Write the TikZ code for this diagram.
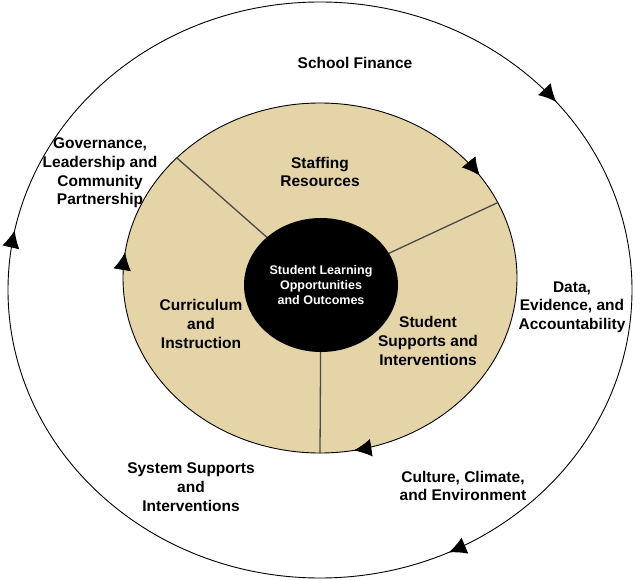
\documentclass[tikz,border=0pt]{standalone}
\usepackage{fontspec}
\setmainfont{Liberation Sans}
\usetikzlibrary{arrows.meta,decorations.markings,shapes.geometric}
\definecolor{DiskTan}{HTML}{E4D4A8}
\definecolor{RuleGray}{HTML}{4A4A4A}

\begin{document}
\begin{tikzpicture}[
    x=1pt,y=1pt,
    lbl/.style={align=center,font=\fontsize{15.5}{18.7}\selectfont\bfseries,text=black},
    corelbl/.style={align=center,font=\fontsize{12.5}{14.8}\selectfont\bfseries,text=white},
    tanring/.style={ellipse,draw=black,line width=0.9pt,fill=DiskTan,inner sep=0pt,
    minimum width=394pt,minimum height=350pt},
    corering/.style={ellipse,fill=black,inner sep=0pt,minimum width=154pt,minimum height=134pt},
    divider/.style={RuleGray,line width=1.3pt},
    outerflow/.style={postaction=decorate,decoration={markings,
      mark=at position 0.11 with {\arrowreversed[scale=1.6]{Latex[length=11pt,width=11pt]}},
      mark=at position 0.468 with {\arrowreversed[scale=1.6]{Latex[length=11pt,width=11pt]}},
      mark=at position 0.82 with {\arrowreversed[scale=1.6]{Latex[length=11pt,width=11pt]}}}},
    innerflow/.style={postaction=decorate,decoration={markings,
      mark=at position 0.095 with {\arrowreversed[scale=1.6]{Latex[length=11pt,width=11pt]}},
      mark=at position 0.478 with {\arrowreversed[scale=1.6]{Latex[length=11pt,width=11pt]}},
      mark=at position 0.779 with {\arrowreversed[scale=1.6]{Latex[length=11pt,width=11pt]}}}}]
    \useasboundingbox (0,0) rectangle (640,579);
    % outer ring
    \draw[line width=0.9pt,outerflow] (320,289) ellipse [x radius=312,y radius=288];
    % tan disk with its three sectors
    \node[tanring] (disk) at (320,301) {};
    \path[innerflow] (disk.center) ellipse [x radius=197,y radius=175];
    \draw[divider] (disk.140) -- (321,294);
    \draw[divider] (disk.23) -- (321,294);
    \draw[divider] (disk.south) -- (321,294);
    \node[corering,corelbl] (core) at (321,294) {Student Learning\\Opportunities\\and Outcomes};
    % sector labels
    \node[lbl] (staffing) at (320,407) {Staffing\\Resources};
    \node[lbl] (curriculum) at (201,255) {Curriculum\\and\\Instruction};
    \node[lbl] (supports) at (428,238) {Student\\Supports and\\Interventions};
    % outer labels
    \node[lbl] (finance) at (355,516) {School Finance};
    \node[lbl] (governance) at (100,406) {Governance,\\Leadership and\\Community\\Partnership};
    \node[lbl] (data) at (572,272) {Data,\\Evidence, and\\Accountability};
    \node[lbl] (system) at (191,92) {System Supports\\and\\Interventions};
    \node[lbl] (culture) at (463,93) {Culture, Climate,\\and Environment};
\end{tikzpicture}
\end{document}
